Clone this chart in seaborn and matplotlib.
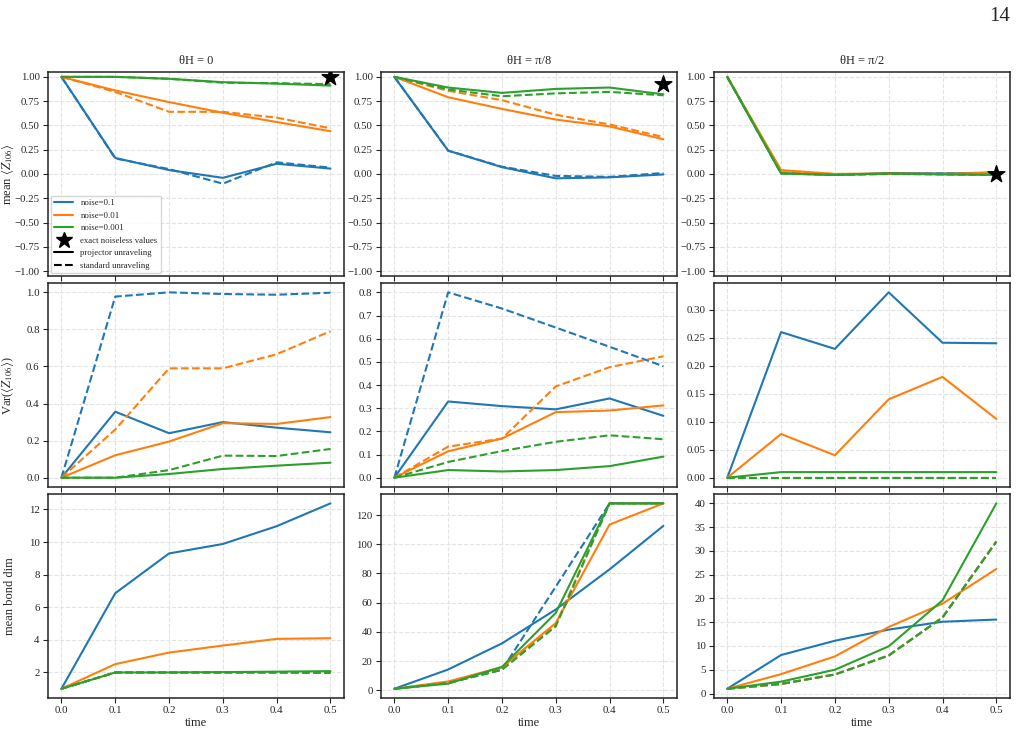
import matplotlib
matplotlib.use("Agg")
import matplotlib.pyplot as plt
from matplotlib.lines import Line2D
import numpy as np
import pandas as pd
import seaborn as sns

# time axis and labels
times = [0.0, 0.1, 0.2, 0.3, 0.4, 0.5]
noises = ["noise=0.1", "noise=0.01", "noise=0.001"]
col_titles = ["θH = 0", "θH = π/8", "θH = π/2"]
row_labels = [r"mean $\langle Z_{106}\rangle$", r"Var($\langle Z_{106}\rangle$)", "mean bond dim"]

# mean <Z>, rows = noise 0.1 / 0.01 / 0.001
mean_0_proj = [[1.0, 0.165, 0.04, -0.04, 0.105, 0.055],
               [1.0, 0.86, 0.74, 0.63, 0.535, 0.44],
               [1.0, 1.0, 0.98, 0.945, 0.93, 0.91]]
mean_0_std = [[1.0, 0.16, 0.05, -0.10, 0.12, 0.065],
              [1.0, 0.845, 0.64, 0.64, 0.58, 0.47],
              [1.0, 1.0, 0.98, 0.94, 0.935, 0.925]]
mean_8_proj = [[1.0, 0.24, 0.07, -0.045, -0.035, -0.005],
               [1.0, 0.79, 0.67, 0.56, 0.49, 0.357],
               [1.0, 0.89, 0.835, 0.876, 0.89, 0.82]]
mean_8_std = [[1.0, 0.24, 0.075, -0.02, -0.03, 0.01],
              [1.0, 0.856, 0.76, 0.61, 0.51, 0.38],
              [1.0, 0.87, 0.80, 0.83, 0.845, 0.81]]
mean_2_proj = [[1.0, 0.01, -0.01, 0.01, 0.005, 0.015],
               [1.0, 0.04, 0.0, 0.005, 0.0, 0.015],
               [1.0, 0.005, -0.01, 0.005, -0.005, -0.01]]
mean_2_std = [[1.0, 0.01, -0.005, 0.0, 0.005, 0.01],
              [1.0, 0.02, 0.0, 0.0, 0.0, 0.005],
              [1.0, 0.005, -0.01, 0.0, -0.005, -0.01]]
exact_values = [1.0, 0.924, 0.0]

# variance of <Z>
var_0_proj = [[0.0, 0.356, 0.24, 0.30, 0.27, 0.245],
              [0.0, 0.121, 0.195, 0.294, 0.29, 0.327],
              [0.0, 0.0, 0.02, 0.047, 0.065, 0.081]]
var_0_std = [[0.0, 0.977, 1.0, 0.991, 0.987, 0.998],
             [0.0, 0.26, 0.59, 0.59, 0.666, 0.79],
             [0.0, 0.0, 0.041, 0.119, 0.117, 0.155]]
var_8_proj = [[0.0, 0.329, 0.309, 0.295, 0.342, 0.267],
              [0.0, 0.114, 0.169, 0.283, 0.29, 0.312],
              [0.0, 0.033, 0.027, 0.033, 0.05, 0.091]]
var_8_std = [[0.0, 0.80, 0.73, 0.648, 0.565, 0.481],
             [0.0, 0.134, 0.169, 0.394, 0.477, 0.524],
             [0.0, 0.068, 0.115, 0.155, 0.183, 0.166]]
var_2_proj = [[0.0, 0.26, 0.23, 0.331, 0.241, 0.240],
              [0.0, 0.078, 0.040, 0.14, 0.18, 0.105],
              [0.0, 0.01, 0.01, 0.01, 0.01, 0.01]]
var_2_std = [[0.0, 0.0, 0.0, 0.0, 0.0, 0.0],
             [0.0, 0.0, 0.0, 0.0, 0.0, 0.0],
             [0.0, 0.0, 0.0, 0.0, 0.0, 0.0]]

# mean bond dimension
bond_0_proj = [[1, 6.86, 9.30, 9.88, 10.97, 12.37],
               [1, 2.51, 3.22, 3.65, 4.06, 4.10],
               [1, 2.0, 2.0, 2.02, 2.05, 2.08]]
bond_0_std = [[1, 2.0, 2.0, 2.0, 2.0, 1.98],
              [1, 2.0, 2.0, 2.0, 2.0, 1.98],
              [1, 2.0, 2.0, 2.0, 2.0, 1.98]]
bond_8_proj = [[1, 14.2, 32.1, 55.3, 82.8, 112.6],
               [1, 6.0, 15.8, 46.0, 113.5, 128],
               [1, 4.5, 16.0, 53.0, 128, 128]]
bond_8_std = [[1, 5.0, 14.0, 71.0, 128, 128],
              [1, 5.0, 15.0, 45.0, 128, 128],
              [1, 5.0, 14.0, 43.8, 128, 128]]
bond_2_proj = [[1, 8.1, 11.1, 13.45, 15.1, 15.56],
               [1, 4.08, 7.8, 14.0, 18.9, 26.2],
               [1, 2.5, 5.0, 9.93, 19.6, 40.0]]
bond_2_std = [[1, 2.0, 4.0, 8.0, 16.0, 32.0],
              [1, 2.0, 4.0, 8.0, 16.0, 32.0],
              [1, 2.04, 4.0, 8.0, 16.0, 31.9]]

panels = [[(mean_0_proj, mean_0_std), (mean_8_proj, mean_8_std), (mean_2_proj, mean_2_std)],
          [(var_0_proj, var_0_std), (var_8_proj, var_8_std), (var_2_proj, var_2_std)],
          [(bond_0_proj, bond_0_std), (bond_8_proj, bond_8_std), (bond_2_proj, bond_2_std)]]

sns.set_style("ticks", {"axes.grid": True, "grid.linestyle": "--",
                        "grid.color": "#e3e3e3", "axes.edgecolor": "#222222"})
plt.rcParams["font.family"] = ["Liberation Serif", "DejaVu Serif"]
plt.rcParams["mathtext.fontset"] = "stix"
colors = sns.color_palette("tab10", 3)

fig, axes = plt.subplots(3, 3, figsize=(10.21, 7.31), dpi=100, sharex=True)
fig.subplots_adjust(left=0.047, right=0.989, top=0.9015, bottom=0.0451,
                    wspace=0.125, hspace=0.035)

for r in range(3):
    for c in range(3):
        ax = axes[r, c]
        proj, std = panels[r][c]
        for k in range(3):
            df = pd.DataFrame({"time": times, "proj": proj[k], "std": std[k]})
            sns.lineplot(data=df, x="time", y="proj", ax=ax, color=colors[k],
                         lw=1.5, linestyle="-")
            sns.lineplot(data=df, x="time", y="std", ax=ax, color=colors[k],
                         lw=1.5, linestyle="--")
        if r == 0:
            ax.scatter([times[-1]], [exact_values[c]], marker="*", s=160,
                       color="black", zorder=5)
            ax.set_ylim(-1.05, 1.05)
            ax.set_yticks(np.arange(-1.0, 1.01, 0.25))
            ax.set_title(col_titles[c], fontsize=9)
        ax.set_xticks(times)
        ax.grid(True, linestyle="--", color="#e3e3e3", lw=0.8)
        ax.tick_params(labelsize=7.8, length=3.5, width=0.8, pad=2.5)
        for s in ax.spines.values():
            s.set_color("#222222")
            s.set_linewidth(1.1)
        ax.set_ylabel(row_labels[r] if c == 0 else "", fontsize=9)
        if c == 0:
            ax.yaxis.set_label_coords(-0.107, 0.5)
        ax.set_xlabel("time" if r == 2 else "", fontsize=9, labelpad=1)

axes[2, 0].set_yticks([2, 4, 6, 8, 10, 12])

handles = [Line2D([], [], color=colors[k], lw=1.5, label=noises[k]) for k in range(3)]
handles.append(Line2D([], [], color="black", marker="*", ms=12, ls="none",
                      label="exact noiseless values"))
handles.append(Line2D([], [], color="black", lw=1.5, ls="-", label="projector unraveling"))
handles.append(Line2D([], [], color="black", lw=1.5, ls="--", label="standard unraveling"))
axes[0, 0].legend(handles=handles, loc="lower left", fontsize=6.3, frameon=True,
                  handlelength=2.2, borderaxespad=0.3, labelspacing=0.5)

fig.text(0.989, 0.978, "14", fontsize=15, ha="right", va="center")

fig.savefig("out.png", dpi=100)
